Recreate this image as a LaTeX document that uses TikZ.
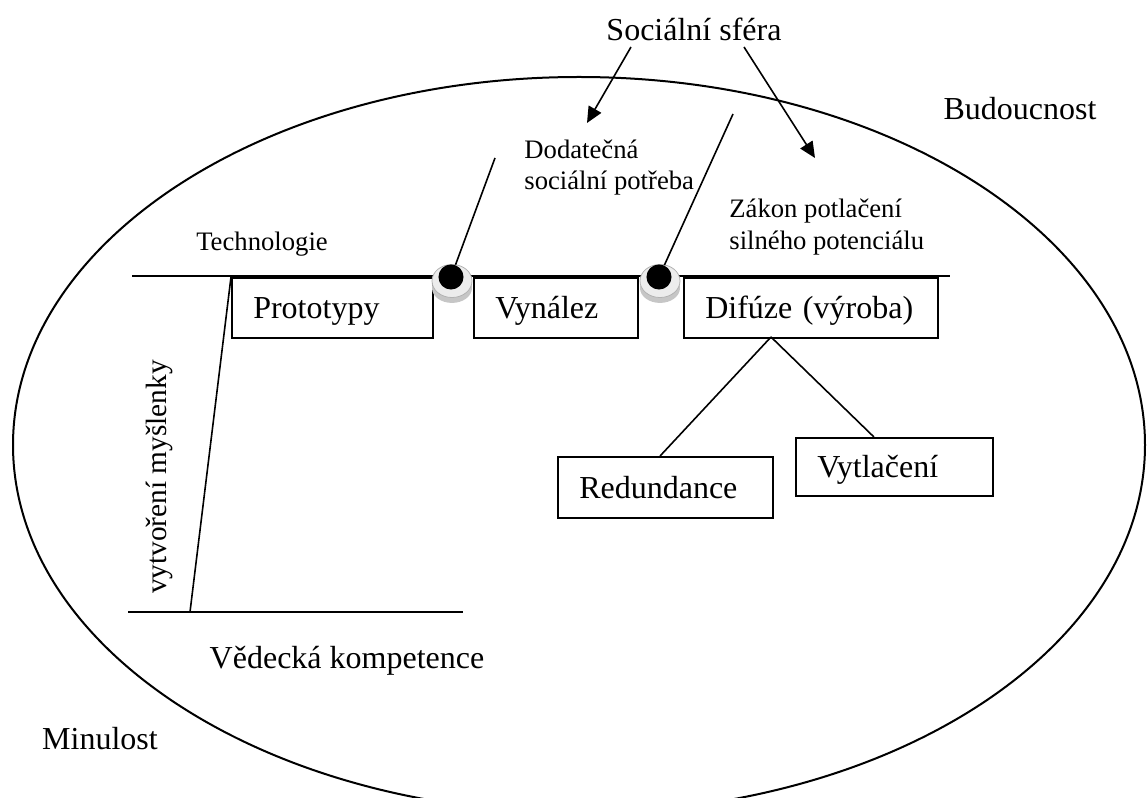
\documentclass[tikz,border=0pt]{standalone}
\usepackage{fontspec}
\setmainfont{Liberation Serif}
\usetikzlibrary{arrows.meta}

\begin{document}
\begin{tikzpicture}[x=0.375pt, y=-0.375pt,
  lbl/.style={font=\fontsize{12}{14}\selectfont},
  smalllbl/.style={font=\fontsize{10}{12}\selectfont, align=left},
  box/.style={draw, line width=0.7pt, rectangle, anchor=north west, lbl,
    align=left, inner xsep=8pt, inner ysep=0pt, text height=11pt, text depth=3pt},
  dot/.style={circle, fill=black, inner sep=0pt, minimum size=9.4pt},
  arr/.style={line width=0.6pt, -{Triangle[length=6pt, width=5.4pt]}}]

\clip (0,0) rectangle (1147,798) ;

\draw [line width=0.75pt] (579,445) ellipse [x radius=212.25pt, y radius=138pt] ;

\node [lbl] (social) at (694,29) {Sociální sféra} ;
\node [lbl] (future) at (1020,109) {Budoucnost} ;
\node [lbl] (past) at (100,739) {Minulost} ;
\node [lbl] (science) at (347,661) {Vědecká kompetence} ;
\node [lbl, font=\fontsize{11}{13}\selectfont, rotate=90] (idea) at (159,477) {vytvoření myšlenky} ;

\node [smalllbl, font=\fontsize{10}{11.6}\selectfont, anchor=west] (need) at (515,168) {Dodatečná\\sociální potřeba} ;
\node [smalllbl, anchor=west] (law) at (720,227) {Zákon potlačení\\silného potenciálu} ;
\node [smalllbl] (tech) at (262,244) {Technologie} ;

\coordinate (techL) at (132,276) ;
\coordinate (techR) at (950,276) ;
\coordinate (sciL) at (128,612) ;
\coordinate (sciR) at (463,612) ;
\coordinate (ideabot) at (190,612) ;
\draw [line width=0.8pt] (techL) -- (techR) ;
\draw [line width=0.8pt] (sciL) -- (sciR) ;

\node [box, text width=59.4pt, minimum height=22.5pt] (proto) at (231,277) {Prototypy} ;
\node [box, text width=45.5pt, minimum height=22.5pt] (vyn) at (473,277) {Vynález} ;
\node [box, text width=79.25pt, minimum height=22.5pt] (dif) at (683,277) {Difúze (výroba)} ;
\node [box, text width=64.6pt, minimum height=22.9pt] (red) at (557,456) {Redundance} ;
\node [box, text width=57.9pt, minimum height=21.75pt] (vyt) at (795,437) {Vytlačení} ;

\draw [line width=0.6pt] (proto.north west) -- (ideabot) ;

\coordinate (fork) at (771,337) ;
\draw [line width=0.6pt] (fork) -- ([xshift=-2pt]red.north) ;
\draw [line width=0.6pt] (fork) -- ([xshift=29.6pt]vyt.north west) ;

\coordinate (s1) at (631,47) ;
\coordinate (s1end) at (587,123) ;
\coordinate (s2) at (744,47) ;
\coordinate (s2end) at (815,158) ;
\draw [arr] (s1) -- (s1end) ;
\draw [arr] (s2) -- (s2end) ;

\foreach \x in {452, 660} {
  \fill [gray!45] (\x,288) ellipse [x radius=7.5pt, y radius=5.6pt] ;
  \fill [gray!15, draw=gray!60, line width=0.3pt] (\x,281) ellipse [x radius=7.5pt, y radius=6.2pt] ;
}

\node [dot] (dot1) at (451,277) {} ;
\node [dot] (dot2) at (659,277) {} ;

\coordinate (n1) at (495,158) ;
\coordinate (n2) at (733,114) ;
\draw [line width=0.6pt] (n1) -- (dot1) ;
\draw [line width=0.6pt] (n2) -- (dot2) ;

\end{tikzpicture}
\end{document}
